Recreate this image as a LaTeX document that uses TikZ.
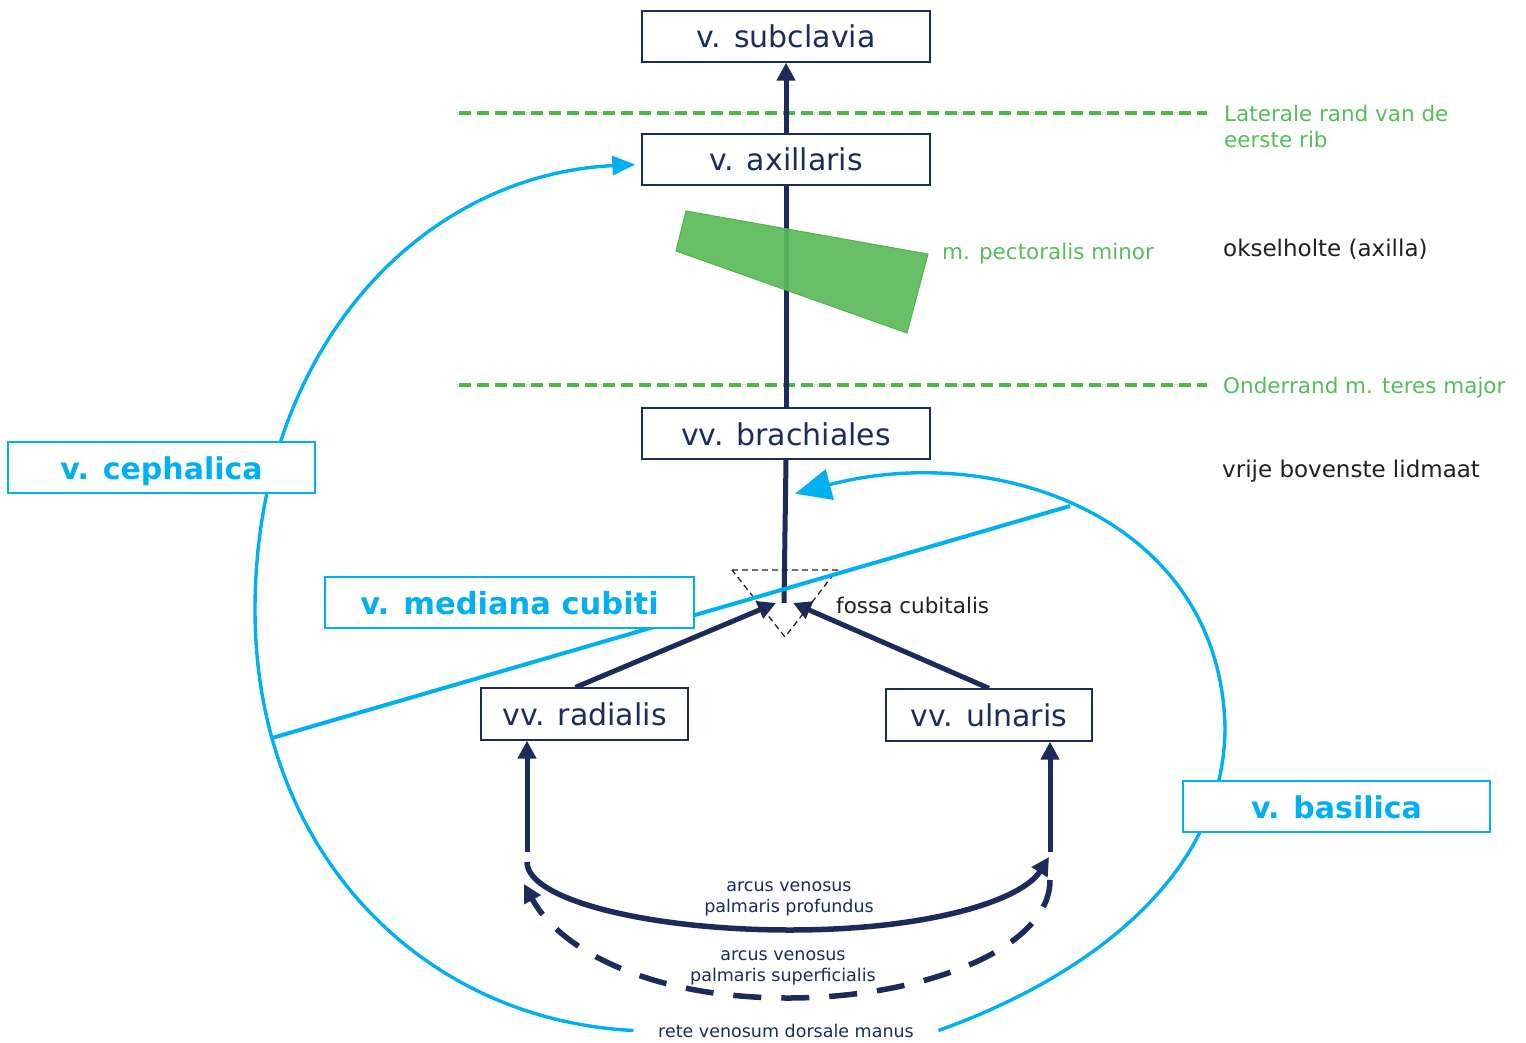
\documentclass[tikz,border=0pt]{standalone}
\usepackage{fontspec}
\setmainfont{DejaVu Sans}
\usetikzlibrary{arrows.meta}

\definecolor{navy}{HTML}{1C2B5A}
\definecolor{cyanv}{HTML}{00B0F0}
\definecolor{grline}{HTML}{4DB848}
\definecolor{grtext}{HTML}{55BE5A}
\definecolor{grfill}{HTML}{5CBA5C}
\definecolor{ink}{HTML}{231F20}

\pgfdeclarelayer{background}
\pgfsetlayers{background,main}

\tikzset{
  deepbox/.style={draw=navy, line width=1.3pt, fill=white, text=navy,
    minimum width=288pt, minimum height=51pt, inner sep=0pt,
    text height=23pt, text depth=0pt, font=\fontsize{30}{36}\selectfont},
  veinbox/.style={draw=cyanv, line width=1.3pt, fill=white, text=cyanv,
    minimum width=307pt, minimum height=51pt, inner sep=0pt,
    text height=23pt, text depth=0pt, font=\fontsize{30}{36}\selectfont\bfseries},
  deepvein/.style={draw=navy, line width=5pt},
  navyhead/.style={-{Triangle[length=18pt,width=18pt]}},
  arch/.style={draw=navy, line width=5.5pt},
  supvein/.style={draw=cyanv, line width=3.4pt},
  landmark/.style={draw=grline, line width=3.5pt, dash pattern=on 12pt off 6pt},
  sidelabel/.style={inner sep=0pt, font=\fontsize{21.5}{26}\selectfont},
  regionlabel/.style={inner sep=0pt, text=ink, font=\fontsize{23}{28}\selectfont},
  handlabel/.style={inner sep=0pt, text=navy, align=center, font=\fontsize{17.5}{21}\selectfont},
}

\begin{document}
\begin{tikzpicture}[x=1pt, y=-1pt]
\useasboundingbox (0,0) rectangle (1526,1043);

% deep veins
\node[deepbox] (subclavia) at (786,36.5) {v. subclavia};
\node[deepbox] (axillaris) at (786,159.5) {v. axillaris};
\node[deepbox] (brachiales) at (786,433.5) {vv. brachiales};
\node[deepbox, minimum width=207pt, minimum height=52pt] (radialis) at (584.5,714) {vv. radialis};
\node[deepbox, minimum width=206pt, minimum height=52pt] (ulnaris) at (989,715) {vv. ulnaris};

% superficial veins
\node[veinbox] (cephalica) at (161.5,467.5) {v. cephalica};
\node[veinbox, minimum width=369pt, font=\fontsize{30.5}{36}\selectfont\bfseries] (mediana) at (509.5,602.5) {v. mediana cubiti};
\node[veinbox] (basilica) at (1336.5,806.5) {v. basilica};

% region labels
\node[sidelabel, text=grtext, anchor=north west, align=left] (rib) at (1224,104.5) {Laterale rand van de\\eerste rib};
\node[regionlabel, anchor=base west] (axilla) at (1223,257) {okselholte (axilla)};
\node[sidelabel, text=grtext, anchor=base west] (teres) at (1223,393) {Onderrand m. teres major};
\node[regionlabel, anchor=base west] (limb) at (1222,477) {vrije bovenste lidmaat};
\node[sidelabel, text=grtext, anchor=base west] (pect) at (942,259) {m. pectoralis minor};
\node[sidelabel, text=ink, anchor=base west] (fossa) at (836,613) {fossa cubitalis};

% hand arches
\node[handlabel, anchor=north] (profundus) at (789,881) {arcus venosus\\palmaris profundus};
\node[handlabel, anchor=north] (superficialis) at (783,950) {arcus venosus\\palmaris superficialis};
\node[handlabel, anchor=base, inner xsep=24.5pt] (rete) at (786,1037) {rete venosum dorsale manus};

% m. pectoralis minor
\filldraw[fill=grfill, draw=grline, line width=1pt, fill opacity=0.93]
  (686,211) -- (928,254) -- (907,333) -- (676,251) -- cycle;

\begin{pgfonlayer}{background}
  % landmark lines
  \coordinate (ribL) at (459,113);
  \coordinate (ribR) at (1207,113);
  \coordinate (teresL) at (459,385);
  \coordinate (teresR) at (1207,385);
  \draw[landmark] (ribL) -- (ribR);
  \draw[landmark] (teresL) -- (teresR);

  % deep venous drainage
  \coordinate (fossapt) at (784,603);
  \draw[deepvein, navyhead] (axillaris.north) -- (subclavia.south);
  \draw[deepvein] (axillaris.south) -- (brachiales.north);
  \draw[deepvein] (brachiales.south) -- (fossapt);
  \draw[deepvein, navyhead] ([xshift=-9pt]radialis.north) -- ([xshift=-8pt]fossapt);
  \draw[deepvein, navyhead] (ulnaris.north) -- ([xshift=9pt]fossapt);

  \coordinate (radfoot) at (527,852);
  \coordinate (ulnfoot) at (1050,852);
  \draw[deepvein, navyhead] (radfoot) -- (radialis.south -| radfoot);
  \draw[deepvein, navyhead] (ulnfoot) -- (ulnaris.south -| ulnfoot);

  % palmar arches
  \coordinate (profL) at (527,862);
  \coordinate (profR) at (1049,857);
  \draw[arch, navyhead] (profL) .. controls (527,900) and (650,930) .. (790,930)
        .. controls (930,930) and (1022,900) .. (profR);
  \coordinate (supR) at (1050,880);
  \coordinate (supL) at (524,884);
  \draw[arch, navyhead, dash pattern=on 28pt off 20pt] (supR) .. controls (1050,950) and (920,998) .. (788,998)
        .. controls (650,998) and (560,950) .. (supL);

  % fossa cubitalis
  \draw[ink, line width=1.3pt, dash pattern=on 6pt off 4pt]
    (732,570) -- (837,570) -- (785,637) -- cycle;

  % superficial veins
  \coordinate (cephtip) at ([shift={(-6,5)}]axillaris.west);
  \draw[supvein, -{Triangle[length=23pt,width=19pt]}] (rete.west)
        .. controls (420,1020) and (255,850) .. (255,610)
        .. controls (255,350) and (420,175) .. (cephtip);
  \coordinate (bastip) at ([shift={(9,34)}]brachiales.south);
  \draw[supvein, -{Triangle[length=36pt,width=31pt]}] (rete.east)
        .. controls (1080,980) and (1225,880) .. (1225,727)
        .. controls (1220,520) and (1000,440) .. (bastip);
  \coordinate (medL) at (272,738);
  \coordinate (medR) at (1070,506);
  \draw[supvein, line width=4pt] (medL) -- (medR);
\end{pgfonlayer}
\end{tikzpicture}
\end{document}
